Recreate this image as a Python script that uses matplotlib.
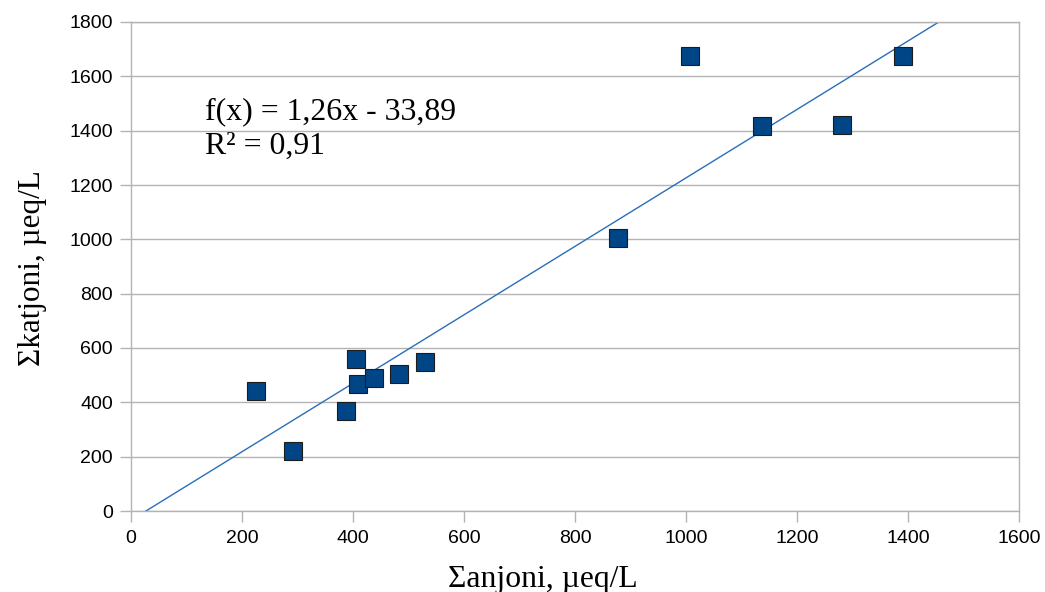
import numpy as np
import matplotlib.pyplot as plt

# Σanjoni / Σkatjoni, µeq/L
anjoni = [225, 292, 387, 405, 409, 438, 483, 530, 877, 1008, 1137, 1281, 1391]
katjoni = [442, 221, 368, 559, 467, 489, 504, 548, 1005, 1675, 1417, 1421, 1675]

# trendline as shown on the chart
slope = 1.26
intercept = -33.89
eq_line1 = "f(x) = 1,26x - 33,89"
eq_line2 = "R² = 0,91"

x_ticks = list(range(0, 1601, 200))
y_ticks = list(range(0, 1801, 200))

grey = "#b3b3b3"

fig = plt.figure(figsize=(10.45, 5.92), dpi=100)
ax = fig.add_axes([131 / 1045, 1 - 511 / 592, 888 / 1045, 489 / 592])

xl = np.array([0, 1600])
ax.plot(xl, slope * xl + intercept, color="#2a6ebb", lw=1.0, zorder=2)
ax.plot(anjoni, katjoni, ls="none", marker="s", ms=13.6,
        mfc="#004586", mec="#1c1c1c", mew=0.8, zorder=3)

ax.set_xlim(0, 1600)
ax.set_ylim(0, 1800)
ax.set_xticks(x_ticks)
ax.set_yticks(y_ticks)
ax.yaxis.grid(True, color=grey, lw=1.0)
ax.set_axisbelow(True)
for s in ax.spines.values():
    s.set_color(grey)
    s.set_linewidth(1.0)
ax.tick_params(direction="out", length=8, width=1, color=grey, labelsize=14)
ax.tick_params(axis="x", pad=6)
ax.tick_params(axis="y", pad=5)
for lab in ax.get_xticklabels() + ax.get_yticklabels():
    lab.set_family("Liberation Sans")

ax.set_xlabel("Σanjoni, µeq/L", family="Liberation Serif", fontsize=22.8)
ax.set_ylabel("Σkatjoni, µeq/L", family="Liberation Serif", fontsize=22.5)
ax.xaxis.label.set_va("baseline")
ax.xaxis.set_label_coords((543 - 131) / 888, (511 - 587) / 489)
ax.yaxis.label.set_va("center")
ax.yaxis.set_label_coords((33 - 131) / 888, 0.497)

ax.text(134, 1443, eq_line1, family="Liberation Serif", fontsize=22.9,
        ha="left", va="baseline")
ax.text(134, 1314, eq_line2, family="Liberation Serif", fontsize=22.9,
        ha="left", va="baseline")

fig.savefig("out.png", dpi=100)
